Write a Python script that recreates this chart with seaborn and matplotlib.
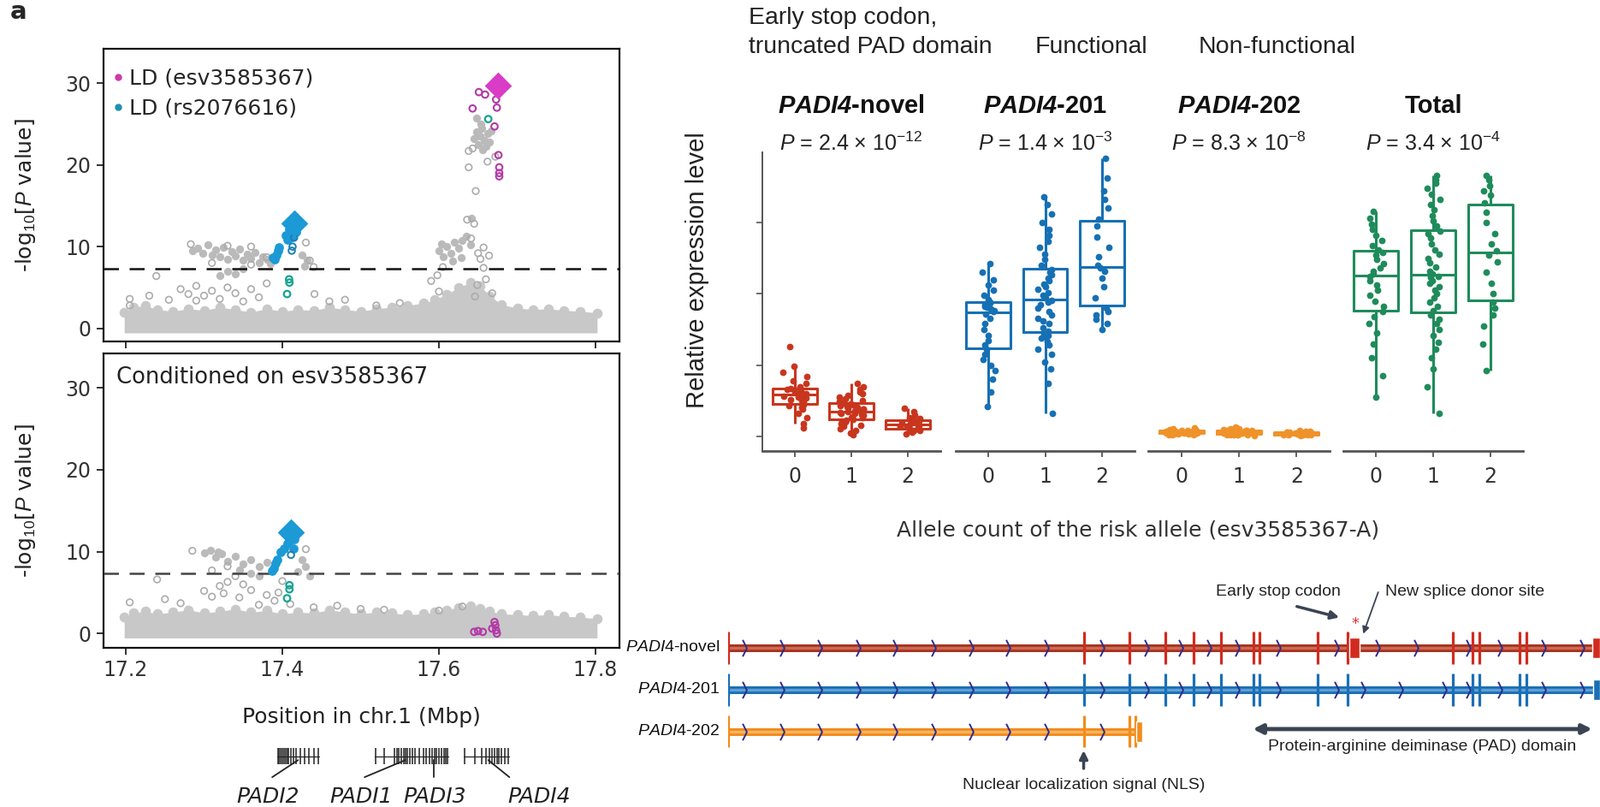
import numpy as np
import pandas as pd
import matplotlib
matplotlib.use("Agg")
import matplotlib.pyplot as plt
import seaborn as sns
from matplotlib.lines import Line2D
from matplotlib.path import Path

sns.set_theme(style="ticks")
plt.rcParams["font.family"] = ["DejaVu Sans"]
plt.rcParams["mathtext.fontset"] = "custom"
plt.rcParams["mathtext.rm"] = "Liberation Sans"
plt.rcParams["mathtext.it"] = "Liberation Sans:italic"
plt.rcParams["mathtext.bf"] = "Liberation Sans:bold"
HAS_BFIT = "mathtext.bfit" in plt.rcParams
if HAS_BFIT:
    plt.rcParams["mathtext.bfit"] = "Liberation Sans:italic:bold"

# ---------------- data: regional association (Mbp, -log10 P) ----------------
band_x = [17.198, 17.210, 17.225, 17.240, 17.260, 17.280, 17.300, 17.320, 17.340, 17.360,
          17.380, 17.400, 17.420, 17.440, 17.460, 17.480, 17.500, 17.520, 17.540, 17.560,
          17.580, 17.595, 17.610, 17.625, 17.640, 17.652, 17.665, 17.680, 17.700, 17.720,
          17.740, 17.760, 17.780, 17.802]
band_top_a = [2.0, 2.6, 2.8, 2.3, 2.1, 2.4, 2.2, 2.6, 2.3, 2.0, 2.4, 2.1, 2.3, 2.2, 2.6, 2.3, 2.1,
              2.4, 2.6, 2.8, 3.1, 3.5, 4.2, 5.0, 5.6, 5.2, 4.0, 2.9, 2.5, 2.3, 2.4, 2.2, 2.1, 1.9]
band_top_b = [2.0, 2.5, 2.7, 2.4, 2.6, 2.9, 2.5, 2.7, 3.0, 2.6, 2.8, 2.4, 2.6, 2.5, 2.9, 2.6, 2.4,
              2.6, 2.5, 2.3, 2.4, 2.6, 2.9, 3.2, 3.4, 3.1, 2.7, 2.4, 2.3, 2.2, 2.3, 2.1, 2.0, 1.8]

top_grey_fill = [(17.285, 9.5), (17.292, 9.8), (17.298, 9.2), (17.305, 10.2), (17.310, 9.0),
                 (17.315, 9.6), (17.320, 8.8), (17.325, 9.9), (17.330, 8.5), (17.335, 9.4),
                 (17.340, 8.9), (17.345, 9.7), (17.350, 8.3), (17.355, 9.1), (17.360, 8.6),
                 (17.365, 9.3), (17.370, 8.0), (17.375, 8.8), (17.380, 8.4), (17.385, 7.9),
                 (17.330, 7.0), (17.340, 6.7), (17.320, 6.5), (17.350, 7.3), (17.425, 9.0),
                 (17.432, 8.3), (17.428, 7.6), (17.600, 9.5), (17.605, 8.8), (17.610, 10.0),
                 (17.615, 9.2), (17.620, 10.5), (17.625, 9.8), (17.630, 10.8), (17.635, 11.3),
                 (17.628, 8.7), (17.618, 8.2), (17.640, 10.2), (17.603, 10.3), (17.648, 24.0),
                 (17.652, 23.5), (17.655, 24.5), (17.658, 23.0), (17.660, 22.3), (17.662, 23.8),
                 (17.665, 22.8), (17.650, 22.5), (17.656, 21.8), (17.645, 23.2), (17.667, 24.2),
                 (17.653, 25.0), (17.648, 25.7), (17.641, 13.5)]
top_grey_hollow = [(17.283, 10.3), (17.330, 10.1), (17.360, 10.0), (17.310, 8.0), (17.360, 7.8),
                   (17.380, 8.7), (17.430, 10.5), (17.435, 8.3), (17.440, 7.5), (17.270, 4.8),
                   (17.280, 4.2), (17.290, 5.2), (17.300, 4.0), (17.310, 4.6), (17.320, 3.6),
                   (17.330, 5.0), (17.340, 4.3), (17.350, 3.3), (17.360, 4.8), (17.370, 3.8),
                   (17.380, 5.5), (17.290, 3.4), (17.255, 3.5), (17.230, 4.0), (17.205, 3.6),
                   (17.205, 2.8), (17.239, 6.4), (17.441, 4.2), (17.460, 3.3), (17.520, 2.8),
                   (17.550, 3.1), (17.480, 3.5), (17.638, 21.7), (17.643, 22.0), (17.638, 19.7),
                   (17.662, 20.4), (17.647, 16.8), (17.636, 13.3), (17.645, 12.8), (17.657, 9.9),
                   (17.650, 9.2), (17.653, 8.5), (17.664, 8.9), (17.657, 7.4), (17.660, 6.0),
                   (17.649, 5.3), (17.646, 3.9), (17.668, 4.3), (17.598, 6.5), (17.605, 7.5),
                   (17.590, 5.8), (17.600, 4.5), (17.672, 21.0), (17.641, 11.0)]
top_blue_fill = [(17.404, 11.4), (17.409, 12.1), (17.419, 12.5), (17.407, 10.9), (17.412, 11.2),
                 (17.394, 9.5), (17.392, 9.0), (17.390, 8.5), (17.396, 9.9), (17.388, 8.7),
                 (17.411, 12.8), (17.417, 11.8)]
top_blue_hollow = [(17.415, 11.1), (17.413, 10.0), (17.412, 9.5)]
top_teal = [(17.4086, 6.0), (17.409, 5.6), (17.406, 4.2), (17.663, 25.6)]
top_mag_hollow = [(17.651, 28.9), (17.659, 28.6), (17.643, 26.9), (17.673, 28.0), (17.674, 27.0),
                  (17.671, 24.7), (17.677, 19.7), (17.677, 19.0), (17.677, 18.6), (17.676, 21.2)]
top_lead_blue = [(17.415, 12.8)]
top_lead_mag = [(17.675, 29.7)]

bot_grey_fill = [(17.300, 9.8), (17.308, 10.2), (17.315, 9.3), (17.322, 9.7), (17.330, 8.8),
                 (17.340, 9.4), (17.350, 8.5), (17.360, 9.0), (17.370, 8.2), (17.380, 8.7),
                 (17.360, 7.3), (17.370, 7.0), (17.425, 9.0), (17.430, 8.2), (17.420, 7.6),
                 (17.435, 7.0), (17.345, 7.8), (17.318, 10.0)]
bot_grey_hollow = [(17.285, 10.1), (17.330, 8.2), (17.310, 7.7), (17.340, 7.0), (17.330, 6.3),
                   (17.320, 5.8), (17.300, 5.2), (17.350, 6.0), (17.360, 5.3), (17.380, 4.7),
                   (17.390, 4.0), (17.345, 4.4), (17.325, 4.9), (17.310, 4.5), (17.430, 10.3),
                   (17.240, 6.6), (17.270, 3.7), (17.250, 4.2), (17.205, 3.8), (17.370, 3.5),
                   (17.410, 3.6), (17.440, 3.2), (17.470, 3.4), (17.500, 3.0), (17.530, 2.9),
                   (17.600, 2.8), (17.630, 3.3), (17.400, 6.4), (17.395, 5.0)]
bot_blue_fill = [(17.402, 10.4), (17.406, 11.0), (17.398, 10.0), (17.414, 10.4), (17.391, 8.6),
                 (17.389, 8.0), (17.387, 7.7), (17.393, 9.0), (17.409, 11.8), (17.415, 11.5)]
bot_blue_hollow = [(17.411, 9.6)]
bot_teal = [(17.409, 5.9), (17.409, 5.4), (17.406, 4.3)]
bot_mag_hollow = [(17.645, 0.2), (17.650, 0.3), (17.656, 0.2), (17.668, 0.6), (17.672, 1.0),
                  (17.673, 0.4), (17.674, 0.0), (17.671, 1.4)]
bot_lead_blue = [(17.411, 12.4)]

gw_threshold = 7.3

# genes (Mbp)
gene_names = ["PADI2", "PADI1", "PADI3", "PADI4"]
gene_body = [(17.393, 17.447), (17.518, 17.572), (17.572, 17.612), (17.632, 17.690)]
gene_exons = [
    [17.394, 17.396, 17.398, 17.400, 17.402, 17.404, 17.406, 17.408, 17.411, 17.414, 17.418,
     17.423, 17.428, 17.434, 17.440, 17.446],
    [17.5195, 17.530, 17.543, 17.546, 17.549, 17.552, 17.555, 17.557, 17.560, 17.563, 17.566, 17.569],
    [17.575, 17.580, 17.584, 17.588, 17.591, 17.594, 17.597, 17.600, 17.603, 17.606, 17.609, 17.611],
    [17.633, 17.646, 17.655, 17.660, 17.665, 17.668, 17.671, 17.674, 17.677, 17.680, 17.684, 17.689],
]
gene_label_x = [17.381, 17.501, 17.595, 17.728]
gene_link = [(17.387, 17.420), (17.505, 17.557), (17.593, 17.593), (17.690, 17.663)]

# ---------------- data: expression by allele count ----------------
alleles = ["0", "1", "2"]
novel_0 = [0.12, 0.18, 0.26, 0.33, 0.38, 0.41, 0.43, 0.45, 0.48, 0.50, 0.52, 0.54, 0.55, 0.57, 0.58,
           0.59, 0.60, 0.62, 0.63, 0.64, 0.66, 0.67, 0.68, 0.70, 0.74, 0.78, 0.84, 0.90, 0.98, 1.26]
novel_1 = [0.02, 0.05, 0.08, 0.11, 0.14, 0.16, 0.18, 0.20, 0.21, 0.22, 0.23, 0.24, 0.25, 0.26, 0.27,
           0.28, 0.29, 0.30, 0.31, 0.32, 0.33, 0.34, 0.35, 0.36, 0.37, 0.38, 0.39, 0.40, 0.41, 0.42,
           0.43, 0.45, 0.46, 0.47, 0.49, 0.51, 0.53, 0.55, 0.58, 0.60, 0.63, 0.66, 0.70, 0.74]
novel_2 = [0.04, 0.06, 0.08, 0.09, 0.10, 0.11, 0.12, 0.13, 0.14, 0.15, 0.16, 0.17, 0.18, 0.19, 0.20,
           0.22, 0.23, 0.25, 0.27, 0.30, 0.35, 0.40]
t201_0 = [0.42, 0.62, 0.80, 0.92, 1.00, 1.08, 1.15, 1.22, 1.28, 1.35, 1.42, 1.50, 1.58, 1.66, 1.72,
          1.75, 1.77, 1.79, 1.81, 1.83, 1.85, 1.87, 1.89, 1.92, 1.98, 2.05, 2.12, 2.20, 2.30, 2.42]
t201_1 = [0.32, 0.75, 0.95, 1.05, 1.15, 1.22, 1.28, 1.33, 1.38, 1.42, 1.44, 1.48, 1.53, 1.58, 1.62,
          1.66, 1.70, 1.75, 1.80, 1.85, 1.89, 1.91, 1.94, 1.98, 2.02, 2.06, 2.10, 2.14, 2.18, 2.22,
          2.27, 2.30, 2.34, 2.40, 2.48, 2.56, 2.65, 2.74, 2.82, 2.90, 3.00, 3.12, 3.25, 3.36]
t201_2 = [1.50, 1.58, 1.65, 1.70, 1.75, 1.80, 1.95, 2.10, 2.22, 2.32, 2.36, 2.40, 2.52, 2.65, 2.80,
          2.95, 3.05, 3.20, 3.32, 3.45, 3.62, 3.90]
t202_0 = [0.02, 0.03, 0.03, 0.04, 0.04, 0.04, 0.05, 0.05, 0.05, 0.05, 0.05, 0.06, 0.06, 0.06, 0.06,
          0.06, 0.06, 0.07, 0.07, 0.07, 0.07, 0.08, 0.08, 0.08, 0.09, 0.09, 0.10, 0.10, 0.11, 0.12]
t202_1 = [0.01, 0.02, 0.02, 0.03, 0.03, 0.03, 0.03, 0.04, 0.04, 0.04, 0.04, 0.04, 0.05, 0.05, 0.05,
          0.05, 0.05, 0.05, 0.05, 0.06, 0.06, 0.06, 0.06, 0.06, 0.06, 0.06, 0.07, 0.07, 0.07, 0.07,
          0.07, 0.08, 0.08, 0.08, 0.08, 0.09, 0.09, 0.09, 0.10, 0.10, 0.11, 0.11, 0.12, 0.13]
t202_2 = [0.01, 0.02, 0.02, 0.03, 0.03, 0.03, 0.03, 0.04, 0.04, 0.04, 0.04, 0.04, 0.05, 0.05, 0.05,
          0.05, 0.06, 0.06, 0.06, 0.07, 0.07, 0.08]
total_0 = [0.55, 0.85, 1.10, 1.30, 1.45, 1.58, 1.68, 1.75, 1.82, 1.90, 1.98, 2.05, 2.12, 2.18, 2.24,
           2.28, 2.32, 2.36, 2.42, 2.48, 2.54, 2.58, 2.62, 2.68, 2.75, 2.82, 2.90, 2.98, 3.06, 3.16]
total_1 = [0.32, 0.70, 0.95, 1.10, 1.22, 1.32, 1.42, 1.50, 1.58, 1.65, 1.70, 1.76, 1.82, 1.88, 1.94,
           2.00, 2.05, 2.10, 2.15, 2.19, 2.23, 2.25, 2.28, 2.32, 2.38, 2.44, 2.50, 2.56, 2.62, 2.70,
           2.78, 2.84, 2.88, 2.95, 3.02, 3.10, 3.18, 3.25, 3.32, 3.40, 3.48, 3.55, 3.60, 3.66]
total_2 = [0.92, 1.30, 1.55, 1.70, 1.80, 1.88, 2.00, 2.15, 2.30, 2.45, 2.55, 2.60, 2.70, 2.85, 3.00,
           3.15, 3.28, 3.38, 3.45, 3.52, 3.60, 3.66]

panel_names = ["PADI4-novel", "PADI4-201", "PADI4-202", "Total"]
panel_pvals = [r"$P$ = 2.4 × 10$^{-12}$", r"$P$ = 1.4 × 10$^{-3}$",
               r"$P$ = 8.3 × 10$^{-8}$", r"$P$ = 3.4 × 10$^{-4}$"]
panel_data = [[novel_0, novel_1, novel_2], [t201_0, t201_1, t201_2],
              [t202_0, t202_1, t202_2], [total_0, total_1, total_2]]
panel_colors = ["#c8361e", "#1670b4", "#f0922a", "#1f8b5b"]
panel_jitter = [0.22, 0.13, 0.28, 0.13]

# ---------------- data: transcript structures (relative position, %) ----------------
tx_labels = ["-novel", "-201", "-202"]
tx_end = [100.0, 100.0, 47.0]
tx_exons = [
    [0, 40.86, 46.13, 50.24, 53.49, 56.59, 60.34, 61.06, 67.77, 71.16, 83.28, 85.59, 86.31, 91.0, 91.72],
    [0, 40.86, 46.13, 50.24, 53.49, 56.59, 60.34, 61.06, 67.77, 71.16, 83.28, 85.59, 86.31, 91.0, 91.72],
    [0, 40.86, 46.13, 46.84],
]
tx_blocks = [[(71.38, 1.23), (99.3, 0.9)], [(99.4, 0.8)], [(46.9, 0.65)]]
tx_chevrons = [
    [1.91, 6.24, 10.56, 14.9, 19.2, 23.6, 27.9, 32.2, 36.6, 43.0, 48.1, 52.0, 55.3, 58.5, 63.2,
     69.9, 74.6, 79.1, 85.1, 88.7, 93.7, 98.1],
    [1.91, 6.24, 10.56, 14.9, 19.2, 23.6, 27.9, 32.2, 36.6, 43.0, 48.1, 52.0, 55.3, 58.5, 63.2,
     69.9, 73.0, 77.3, 82.3, 85.1, 88.7, 93.7, 98.1],
    [1.91, 6.24, 10.56, 14.9, 19.2, 23.6, 27.9, 32.2, 36.6, 43.0],
]
tx_outer = ["#a8331f", "#1a6fb5", "#f28c1c"]
tx_inner = ["#c96b55", "#5e9fd6", "#f6b363"]
tx_exon_col = ["#d12b1f", "#1a6fb5", "#f28c1c"]
pad_domain = (60.3, 99.3)
nls_pos = 40.86
stop_codon_pos = 72.1

# ---------------- figure ----------------
W, H = 1870, 943
fig = plt.figure(figsize=(W / 100, H / 100), dpi=100)


def add_ax(left, top, right, bottom):
    return fig.add_axes([left / W, 1 - bottom / H, (right - left) / W, (bottom - top) / H])


def ftext(x, y, s, **kw):
    return fig.text(x / W, 1 - y / H, s, **kw)


def pairs(lst):
    a = np.array(lst, dtype=float)
    return a[:, 0], a[:, 1]


GREY = "#c8c8c8"
GREY_DARK = "#bababa"
GREY_EDGE = "#acacac"
BLUE = "#1b9ad6"
TEAL = "#17a393"
MAG = "#d93cc6"
MAG_EDGE = "#b23aa6"


def draw_manhattan(ax, band_top, grey_fill, grey_hollow, blue_fill, blue_hollow, teal,
                   mag_hollow, lead_blue, lead_mag, dash_col):
    ax.fill_between(band_x, -0.55, band_top, color=GREY, lw=0, zorder=1)
    sns.scatterplot(x=band_x, y=band_top, ax=ax, color=GREY, s=70, linewidth=0, zorder=1, legend=False)
    x, y = pairs(grey_fill)
    sns.scatterplot(x=x, y=y, ax=ax, color=GREY_DARK, s=45, linewidth=0, zorder=2, legend=False)
    x, y = pairs(grey_hollow)
    ax.scatter(x, y, s=30, facecolors="none", edgecolors=GREY_EDGE, linewidths=1.2, zorder=2)
    ax.axhline(gw_threshold, color=dash_col, lw=1.8, ls=(0, (7, 5)), zorder=3)
    x, y = pairs(blue_fill)
    sns.scatterplot(x=x, y=y, ax=ax, color=BLUE, s=60, linewidth=0, zorder=4, legend=False)
    x, y = pairs(blue_hollow)
    ax.scatter(x, y, s=30, facecolors="none", edgecolors="#1b7fb3", linewidths=1.4, zorder=4)
    x, y = pairs(teal)
    ax.scatter(x, y, s=30, facecolors="none", edgecolors=TEAL, linewidths=1.6, zorder=4)
    x, y = pairs(mag_hollow)
    ax.scatter(x, y, s=30, facecolors="none", edgecolors=MAG_EDGE, linewidths=1.5, zorder=4)
    x, y = pairs(lead_blue)
    ax.scatter(x, y, s=260, marker="D", color=BLUE, linewidths=0, zorder=5)
    if lead_mag:
        x, y = pairs(lead_mag)
        ax.scatter(x, y, s=260, marker="D", color=MAG, linewidths=0, zorder=5)
    ax.set_xlim(17.171, 17.8306)
    ax.set_xticks([17.2, 17.4, 17.6, 17.8])
    ax.set_yticks([0, 10, 20, 30])
    ax.tick_params(labelsize=17, length=6, width=1.3, color="#222", labelcolor="#333", pad=4)
    for s in ax.spines.values():
        s.set_linewidth(1.6)
        s.set_color("#111")


ax_a = add_ax(120.5, 57, 724, 399)
draw_manhattan(ax_a, band_top_a, top_grey_fill, top_grey_hollow, top_blue_fill, top_blue_hollow,
               top_teal, top_mag_hollow, top_lead_blue, top_lead_mag, "#111")
ax_a.set_ylim(-1.6, 34.2)
ax_a.tick_params(labelbottom=False)
handles = [Line2D([], [], ls="none", marker="o", ms=5, color="#cc3aa6"),
           Line2D([], [], ls="none", marker="o", ms=5, color="#1e8fb3")]
ax_a.legend(handles, ["LD (esv3585367)", "LD (rs2076616)"], loc="upper left",
            bbox_to_anchor=(-0.012, 0.985), frameon=False, fontsize=18, handlelength=0.6,
            handletextpad=0.2, labelspacing=0.45, borderaxespad=0.5, borderpad=0.2)

ax_b = add_ax(120.5, 413, 724, 757)
draw_manhattan(ax_b, band_top_b, bot_grey_fill, bot_grey_hollow, bot_blue_fill, bot_blue_hollow,
               bot_teal, bot_mag_hollow, bot_lead_blue, None, "#444")
ax_b.set_ylim(-1.75, 34.2)
ftext(136, 441, "Conditioned on esv3585367", fontsize=18.6, va="center", ha="left", color="#222")

for yc in (228, 585):
    ftext(30, yc, r"-log$_{10}$[$P$ value]", fontsize=18, rotation=90, ha="center", va="center",
          color="#222")
ftext(422, 838, "Position in chr.1 (Mbp)", fontsize=18, ha="center", va="center", color="#222")
ftext(12, 14, "a", fontsize=21, fontweight="bold", ha="left", va="center")

# gene track
ax_g = add_ax(120.5, 860, 724, 943)
ax_g.set_xlim(17.171, 17.8306)
ax_g.set_ylim(0, 1)
ax_g.axis("off")
for name, (b0, b1), ex, lx, (l0, l1) in zip(gene_names, gene_body, gene_exons, gene_label_x, gene_link):
    ax_g.plot([b0, b1], [0.71, 0.71], color="#222", lw=0.9)
    ax_g.vlines(ex, 0.60, 0.83, color="#222", lw=1.1)
    ax_g.plot([l0, l1], [0.42, 0.66], color="#222", lw=1.3)
    ax_g.text(lx, 0.14, name, style="italic", fontsize=18, ha="center", va="center", color="#222",
              clip_on=False)

# ---------------- expression boxplots ----------------
box_axes = [(891, 1099), (1117, 1326), (1342, 1554), (1570, 1780)]
for i, ((l, r), name, pv, groups, col, jit) in enumerate(
        zip(box_axes, panel_names, panel_pvals, panel_data, panel_colors, panel_jitter)):
    ax = add_ax(l, 178, r, 527)
    df = pd.DataFrame({"allele": [a for a, vals in zip(alleles, groups) for _ in vals],
                       "value": [v for vals in groups for v in vals]})
    sns.boxplot(data=df, x="allele", y="value", order=alleles, ax=ax, fill=False, color=col,
                width=0.78, linewidth=2.2, showfliers=False, showcaps=False)
    sns.stripplot(data=df, x="allele", y="value", order=alleles, ax=ax, color=col, size=5.6,
                  jitter=jit, linewidth=0, zorder=3)
    ax.set_xlim(-0.576, 2.576)
    ax.set_ylim(-0.204, 3.985)
    ax.set_xlabel("")
    ax.set_ylabel("")
    sns.despine(ax=ax, left=(i > 0))
    ax.spines["bottom"].set_linewidth(2.0)
    ax.spines["bottom"].set_color("#555")
    ax.tick_params(axis="x", labelsize=17, length=5, width=1.3, color="#555", labelcolor="#333", pad=8)
    if i == 0:
        ax.set_yticks([0, 1, 2, 3])
        ax.set_yticklabels([])
        ax.tick_params(axis="y", length=5, width=1.2, color="#555")
        ax.spines["left"].set_linewidth(1.4)
        ax.spines["left"].set_color("#555")
    else:
        ax.set_yticks([])
    cx = (l + r) / 2
    if name == "Total":
        ftext(cx, 124, "Total", fontsize=21, fontweight="bold", family="Liberation Sans",
              ha="center", va="center", color="#111")
    else:
        lab = (r"$\mathbfit{PADI4}$" if HAS_BFIT else r"$\mathbf{PADI4}$") + name[5:]
        ftext(cx, 124, lab, fontsize=21, fontweight="bold", family="Liberation Sans",
              ha="center", va="center", color="#111")
    ftext(cx, 168, pv, fontsize=18, family="Liberation Sans", ha="center", va="center", color="#222")

ftext(875, 21, "Early stop codon,", fontsize=20.5, family="Liberation Sans", ha="left", va="center",
      color="#222")
ftext(875, 55, "truncated PAD domain", fontsize=20.5, family="Liberation Sans", ha="left",
      va="center", color="#222")
ftext(1210, 55, "Functional", fontsize=20.5, family="Liberation Sans", ha="left", va="center",
      color="#222")
ftext(1401, 55, "Non-functional", fontsize=20.5, family="Liberation Sans", ha="left", va="center",
      color="#222")
ftext(815, 316, "Relative expression level", fontsize=21, family="Liberation Sans", rotation=90,
      ha="center", va="center", color="#222")
ftext(1330, 620, "Allele count of the risk allele (esv3585367-A)", fontsize=18, ha="center",
      va="center", color="#333")

# ---------------- transcript structures ----------------
ax_t = add_ax(851, 660, 1870, 943)
ax_t.set_xlim(0, 100.2)
ax_t.set_ylim(-3.80, 1.98)
ax_t.axis("off")
chevron = Path([(-0.25, 1.0), (0.25, 0.0), (-0.25, -1.0)], [Path.MOVETO, Path.LINETO, Path.LINETO])
for k in range(3):
    yrow = -k
    ax_t.plot([0, tx_end[k]], [yrow, yrow], color=tx_outer[k], lw=6.5, solid_capstyle="butt", zorder=1)
    ax_t.plot([0, tx_end[k]], [yrow, yrow], color=tx_inner[k], lw=2.4, solid_capstyle="butt", zorder=2)
    ax_t.vlines(tx_exons[k], yrow - 0.38, yrow + 0.38, color=tx_exon_col[k], lw=2.3, zorder=3)
    lefts = [b[0] for b in tx_blocks[k]]
    widths = [b[1] for b in tx_blocks[k]]
    ax_t.barh([yrow] * len(lefts), widths, left=lefts, height=0.5, color=tx_exon_col[k], zorder=3)
    ax_t.plot(tx_chevrons[k], [yrow] * len(tx_chevrons[k]), ls="none", marker=chevron, ms=14,
              mec="#2e2b8c", mfc="none", mew=1.4, zorder=4)
    ax_t.text(-0.98, yrow, r"$\mathit{PADI4}$" + tx_labels[k], fontsize=14, family="Liberation Sans",
              ha="right", va="center", color="#111", clip_on=False)

ARROW = "#3b4452"
ax_t.text(63.2, 1.33, "Early stop codon", fontsize=14, family="Liberation Sans", ha="center",
          va="center", color="#222")
ax_t.annotate("", xy=(70.5, 0.71), xytext=(65.1, 1.0),
              arrowprops=dict(arrowstyle="-|>", color=ARROW, lw=2.5, mutation_scale=14))
ax_t.text(stop_codon_pos, 0.58, "*", fontsize=13, color="#e03030", ha="center", va="center")
ax_t.text(75.5, 1.33, "New splice donor site", fontsize=14, family="Liberation Sans", ha="left",
          va="center", color="#222")
ax_t.annotate("", xy=(72.9, 0.28), xytext=(74.8, 1.38),
              arrowprops=dict(arrowstyle="-|>", color=ARROW, lw=1.3, mutation_scale=12))
ax_t.annotate("", xy=(pad_domain[1], -1.94), xytext=(pad_domain[0], -1.94),
              arrowprops=dict(arrowstyle="<|-|>", color=ARROW, lw=3.5, mutation_scale=16,
                              shrinkA=0, shrinkB=0))
ax_t.text(sum(pad_domain) / 2, -2.37, "Protein-arginine deiminase (PAD) domain", fontsize=14,
          family="Liberation Sans", ha="center", va="center", color="#222")
ax_t.annotate("", xy=(nls_pos, -2.45), xytext=(nls_pos, -2.88),
              arrowprops=dict(arrowstyle="-|>", color=ARROW, lw=2.5, mutation_scale=14,
                              shrinkA=0, shrinkB=0))
ax_t.text(nls_pos, -3.27, "Nuclear localization signal (NLS)", fontsize=14, family="Liberation Sans",
          ha="center", va="center", color="#222")

fig.savefig("out.png", dpi=100)
